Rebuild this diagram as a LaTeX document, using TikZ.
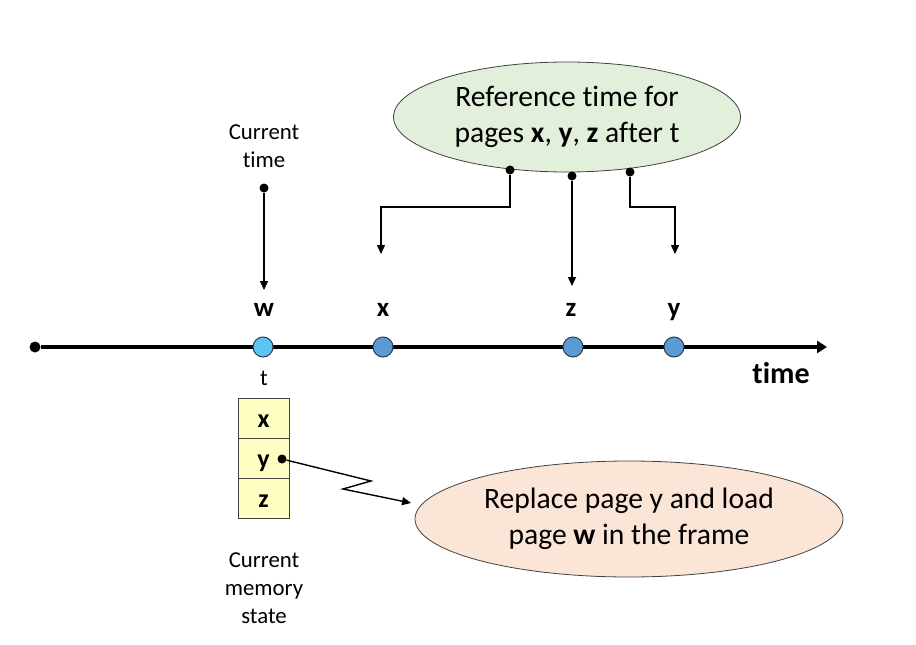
\documentclass[tikz,border=0pt]{standalone}
\usepackage{fontspec}
\setmainfont{Carlito}[Ligatures=NoCommon]
\usetikzlibrary{arrows.meta,shapes.geometric,calc}
\definecolor{lblue}{HTML}{5BC6F2}
\definecolor{mblue}{HTML}{5B9BD5}
\definecolor{cborder}{HTML}{2E3B4E}
\definecolor{lgreen}{HTML}{E2EFDA}
\definecolor{lsalmon}{HTML}{FBE5D6}
\definecolor{lyellow}{HTML}{FFFFC4}
\definecolor{bgray}{HTML}{404040}
\tikzset{
  x=1pt,y=1pt,
  dotnode/.style={circle,fill=black,inner sep=0,minimum size=9pt},
  evt/.style={circle,draw=cborder,line width=1pt,inner sep=0,minimum size=20pt},
  small/.style={font=\fontsize{22.8}{28}\selectfont,align=center,inner sep=0},
  lbl/.style={font=\fontsize{27}{30}\selectfont\bfseries,inner sep=0,anchor=base},
  conn/.style={line width=1.4pt,-{Triangle[width=8pt,length=9pt]}},
  cell/.style={rectangle,draw=bgray,fill=lyellow,line width=1pt,minimum width=51pt,minimum height=40pt,inner sep=0,text height=18pt,text depth=0pt,font=\fontsize{26}{30}\selectfont\bfseries},
  bubble/.style={ellipse,draw=bgray,line width=0.8pt,inner sep=0,font=\fontsize{29.6}{36}\selectfont,align=center}
}
\begin{document}
\begin{tikzpicture}
\useasboundingbox (0,0) rectangle (916,-645);
% timeline
\node[dotnode,minimum size=11pt] (ts) at (35,-347) {};
\coordinate (te) at (827,-347);
\draw[line width=3.5pt,-{Triangle[width=12pt,length=10pt]}] (ts) -- (te);
\node[evt,fill=lblue] (cw) at (263,-347) {};
\node[evt,fill=mblue] (cx) at (383,-347) {};
\node[evt,fill=mblue] (cz) at (573,-347) {};
\node[evt,fill=mblue] (cy) at (674,-347) {};
\node[lbl] (lw) at (264,-316) {w};
\node[lbl] (lx) at (383,-316) {x};
\node[lbl] (lz) at (571,-316) {z};
\node[lbl] (ly) at (674,-316) {y};
\node[small] (lt) at (264,-378) {t};
\node[font=\fontsize{30}{34}\selectfont\bfseries,inner sep=0] (ltime) at (781,-373) {time};
% current time
\node[small] (ctime) at (264,-146) {Current\\time};
\node[dotnode] (cdot) at (264,-188) {};
\coordinate (carr) at (264,-290);
\draw[conn] (cdot) -- (carr);
% reference ellipse
\node[bubble,fill=lgreen,minimum width=347pt,minimum height=110pt] (ref) at (567,-117) {Reference time for\\pages \textbf{x}, \textbf{y}, \textbf{z} after t};
\node[dotnode] (d1) at (510,-170) {};
\node[dotnode] (d2) at (572,-176) {};
\node[dotnode] (d3) at (630,-172) {};
\coordinate (a1) at (381,-254);
\coordinate (a2) at (572,-286);
\coordinate (a3) at (675,-254);
\draw[conn] (d1) |- (445,-207) -| (a1);
\draw[conn] (d2) -- (a2);
\draw[conn] (d3) |- (650,-207) -| (a3);
% memory
\node[cell] (mx) at (263.5,-418) {x};
\node[cell] (my) at (263.5,-458) {y};
\node[cell] (mz) at (263.5,-498) {z};
\node[small] (cmem) at (264,-588) {Current\\memory\\state};
% replace ellipse
\node[bubble,fill=lsalmon,minimum width=428pt,minimum height=116pt] (rep) at (629,-519) {Replace page y and load\\page \textbf{w} in the frame};
\node[dotnode] (ydot) at (282,-459) {};
\coordinate (z1) at (371,-481);
\coordinate (z2) at (343,-489);
\coordinate (ra) at (411,-503);
\draw[conn] (ydot) -- (z1) -- (z2) -- (ra);
\end{tikzpicture}
\end{document}
